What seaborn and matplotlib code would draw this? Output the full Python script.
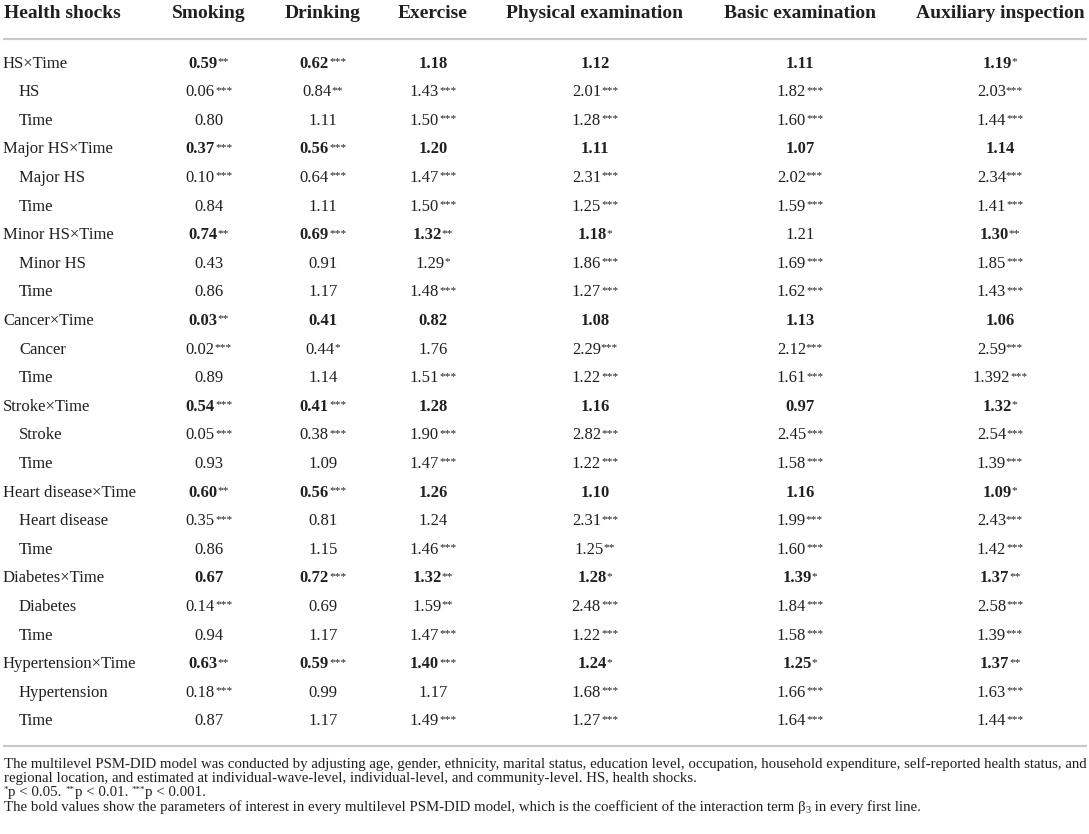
import matplotlib
matplotlib.use("Agg")
import matplotlib.pyplot as plt
import seaborn as sns
import pandas as pd

# ---------------- data ----------------
columns = ["Smoking", "Drinking", "Exercise", "Physical examination",
           "Basic examination", "Auxiliary inspection"]

row_labels = ["HS×Time", "HS", "Time",
              "Major HS×Time", "Major HS", "Time",
              "Minor HS×Time", "Minor HS", "Time",
              "Cancer×Time", "Cancer", "Time",
              "Stroke×Time", "Stroke", "Time",
              "Heart disease×Time", "Heart disease", "Time",
              "Diabetes×Time", "Diabetes", "Time",
              "Hypertension×Time", "Hypertension", "Time"]

smoking = ["0.59**", "0.06***", "0.80", "0.37***", "0.10***", "0.84",
           "0.74**", "0.43", "0.86", "0.03**", "0.02***", "0.89",
           "0.54***", "0.05***", "0.93", "0.60**", "0.35***", "0.86",
           "0.67", "0.14***", "0.94", "0.63**", "0.18***", "0.87"]
drinking = ["0.62***", "0.84**", "1.11", "0.56***", "0.64***", "1.11",
            "0.69***", "0.91", "1.17", "0.41", "0.44*", "1.14",
            "0.41***", "0.38***", "1.09", "0.56***", "0.81", "1.15",
            "0.72***", "0.69", "1.17", "0.59***", "0.99", "1.17"]
exercise = ["1.18", "1.43***", "1.50***", "1.20", "1.47***", "1.50***",
            "1.32**", "1.29*", "1.48***", "0.82", "1.76", "1.51***",
            "1.28", "1.90***", "1.47***", "1.26", "1.24", "1.46***",
            "1.32**", "1.59**", "1.47***", "1.40***", "1.17", "1.49***"]
physical = ["1.12", "2.01***", "1.28***", "1.11", "2.31***", "1.25***",
            "1.18*", "1.86***", "1.27***", "1.08", "2.29***", "1.22***",
            "1.16", "2.82***", "1.22***", "1.10", "2.31***", "1.25**",
            "1.28*", "2.48***", "1.22***", "1.24*", "1.68***", "1.27***"]
basic = ["1.11", "1.82***", "1.60***", "1.07", "2.02***", "1.59***",
         "1.21", "1.69***", "1.62***", "1.13", "2.12***", "1.61***",
         "0.97", "2.45***", "1.58***", "1.16", "1.99***", "1.60***",
         "1.39*", "1.84***", "1.58***", "1.25*", "1.66***", "1.64***"]
auxiliary = ["1.19*", "2.03***", "1.44***", "1.14", "2.34***", "1.41***",
             "1.30**", "1.85***", "1.43***", "1.06", "2.59***", "1.392***",
             "1.32*", "2.54***", "1.39***", "1.09*", "2.43***", "1.42***",
             "1.37**", "2.58***", "1.39***", "1.37**", "1.63***", "1.44***"]

# cells in interaction rows that are NOT printed bold in the source
not_bold = [(6, "Basic examination")]

footnote1 = ("The multilevel PSM-DID model was conducted by adjusting age, gender, ethnicity, "
             "marital status, education level, occupation, household expenditure, "
             "self-reported health status, and")
footnote2 = ("regional location, and estimated at individual-wave-level, individual-level, "
             "and community-level. HS, health shocks.")
footnote3 = [("*", "p < 0.05. "), ("**", "p < 0.01. "), ("***", "p < 0.001.")]
footnote4a = ("The bold values show the parameters of interest in every multilevel PSM-DID "
              "model, which is the coefficient of the interaction term β")
footnote4b = "3"
footnote4c = " in every first line."

table = pd.DataFrame({c: v for c, v in zip(columns, [smoking, drinking, exercise,
                                                     physical, basic, auxiliary])},
                     index=row_labels)

# ---------------- style ----------------
sns.set_theme(style="white")
FONT = ["Liberation Serif", "DejaVu Serif"]
plt.rcParams["font.family"] = FONT
INK = "#231f20"
RULE = "#c9c9c9"

W, H = 1089, 834
fig = plt.figure(figsize=(W / 100, H / 100), dpi=100)
ax = fig.add_axes([0, 0, 1, 1])
ax.set_xlim(0, W)
ax.set_ylim(H, 0)
ax.axis("off")
R = fig.canvas.get_renderer()

PX = 100 / 72.0


def width(s, size, weight="normal"):
    t = ax.text(0, 0, s, fontsize=size, fontweight=weight)
    w = t.get_window_extent(renderer=R).width
    t.remove()
    return w


def draw_segments(x, baseline, segs, ha="left"):
    """segs: list of (text, size, weight, raise_px)"""
    ws = [width(s, sz, wt) for s, sz, wt, _ in segs]
    total = sum(ws)
    cur = x - total / 2 if ha == "center" else x
    for (s, sz, wt, dy), w in zip(segs, ws):
        ax.text(cur, baseline - dy, s, fontsize=sz, fontweight=wt,
                color=INK, va="baseline", ha="left")
        cur += w


BODY = 12.0
HEAD = 14.0
STAR = BODY * 0.68

col_x = [209, 323, 433, 595, 800, 1000]
header_y = 11.5
rule1_y = 39
row0_y = 62
row_step = 28.6
rule2_y = 746

# header
ax.text(4, header_y + 0.33 * HEAD * PX, "Health shocks", fontsize=HEAD,
        fontweight="bold", color=INK, va="baseline", ha="left")
for cx, name in zip(col_x, columns):
    ax.text(cx, header_y + 0.33 * HEAD * PX, name, fontsize=HEAD,
            fontweight="bold", color=INK, va="baseline", ha="center")

ax.hlines(rule1_y, 3, W - 2, color=RULE, lw=1.6)

# body rows
for i, lab in enumerate(row_labels):
    yc = row0_y + i * row_step
    base = yc + 0.33 * BODY * PX
    main = (i % 3 == 0)
    ax.text(3 if main else 19, base, lab, fontsize=BODY, color=INK,
            va="baseline", ha="left")
    for cx, col in zip(col_x, columns):
        cell = table.loc[:, col].iloc[i]
        num = cell.rstrip("*")
        stars = cell[len(num):]
        bold = main and (i, col) not in not_bold
        segs = [(num, BODY, "bold" if bold else "normal", 0)]
        if stars:
            segs.append((stars, STAR, "normal", 0.2 * BODY * PX))
        draw_segments(cx, base, segs, ha="center")

ax.hlines(rule2_y, 3, W - 2, color=RULE, lw=1.6)

# footnotes: fit size so the first line spans the width
target = 1081
fn = 10.0
fn = fn * target / width(footnote1, fn)
fstep = 14.2
fy0 = 763
def fbase(k):
    return fy0 + k * fstep + 0.33 * fn * PX

ax.text(4, fbase(0), footnote1, fontsize=fn, color=INK, va="baseline")
ax.text(4, fbase(1), footnote2, fontsize=fn, color=INK, va="baseline")
segs = []
for st, txt in footnote3:
    segs.append((st, fn * 0.6, "normal", 0.28 * fn * PX))
    segs.append((txt, fn, "normal", 0))
draw_segments(4, fbase(2), segs)
draw_segments(4, fbase(3), [(footnote4a, fn, "normal", 0),
                            (footnote4b, fn * 0.7, "normal", -0.15 * fn * PX),
                            (footnote4c, fn, "normal", 0)])

fig.savefig("out.png", dpi=100, facecolor="white")
